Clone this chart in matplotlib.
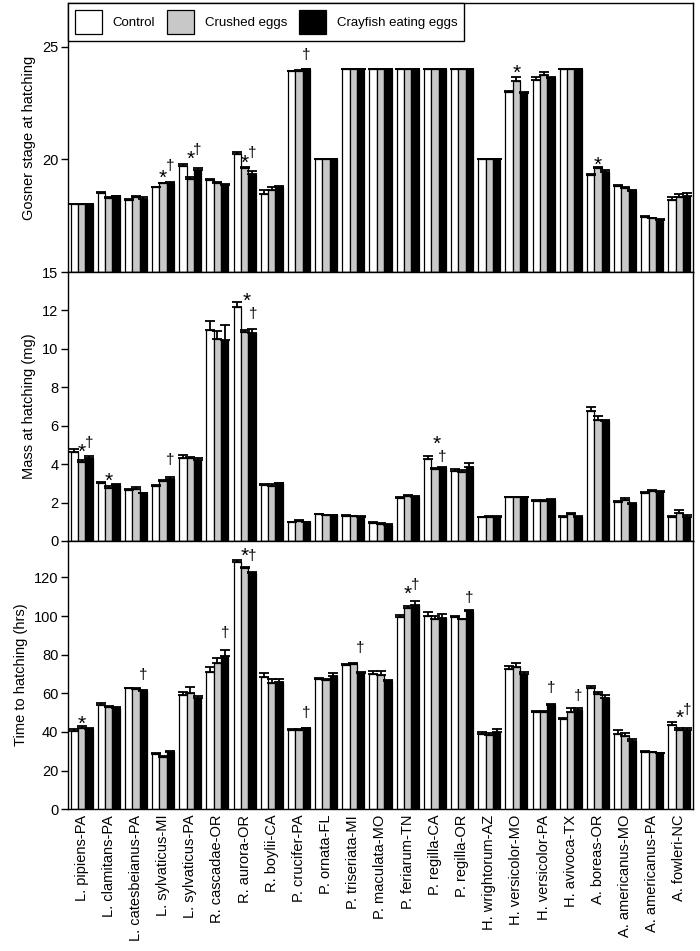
import matplotlib
matplotlib.use("Agg")
import matplotlib.pyplot as plt
from matplotlib.patches import Patch
import numpy as np

plt.rcParams['font.family'] = ['Liberation Sans', 'DejaVu Sans']

species = ["L. pipiens-PA", "L. clamitans-PA", "L. catesbeianus-PA", "L. sylvaticus-MI",
           "L. sylvaticus-PA", "R. cascadae-OR", "R. aurora-OR", "R. boylii-CA",
           "P. crucifer-PA", "P. ornata-FL", "P. triseriata-MI", "P. maculata-MO",
           "P. feriarum-TN", "P. regilla-CA", "P. regilla-OR", "H. wrightorum-AZ",
           "H. versicolor-MO", "H. versicolor-PA", "H. avivoca-TX", "A. boreas-OR",
           "A. americanus-MO", "A. americanus-PA", "A. fowleri-NC"]
series_names = ["Control", "Crushed eggs", "Crayfish eating eggs"]
series_colors = ["white", "#c8c8c8", "black"]

# Gosner stage at hatching
stage_control = [18.0, 18.5, 18.2, 18.76, 19.7, 19.1, 20.24, 18.48, 23.92, 20.0, 24.0, 24.0,
                 24.0, 24.0, 24.0, 20.0, 23.0, 23.55, 24.0, 19.3, 18.8, 17.46, 18.21]
stage_crushed = [18.0, 18.3, 18.32, 18.94, 19.15, 18.97, 19.61, 18.66, 23.95, 20.0, 24.0, 24.0,
                 24.0, 24.0, 24.0, 20.0, 23.5, 23.77, 24.0, 19.62, 18.73, 17.39, 18.32]
stage_crayfish = [18.0, 18.36, 18.26, 18.97, 19.55, 18.87, 19.36, 18.78, 24.0, 20.0, 24.0, 24.0,
                  24.0, 24.0, 24.0, 20.0, 22.96, 23.6, 24.0, 19.46, 18.59, 17.32, 18.39]
stage_err_control = [0.02, 0.05, 0.05, 0.03, 0.08, 0.04, 0.1, 0.15, 0.02, 0.02, 0.02, 0.02,
                     0.02, 0.02, 0.02, 0.02, 0.02, 0.1, 0.02, 0.05, 0.05, 0.03, 0.12]
stage_err_crushed = [0.02, 0.05, 0.05, 0.03, 0.05, 0.04, 0.05, 0.1, 0.02, 0.02, 0.02, 0.02,
                     0.02, 0.02, 0.02, 0.02, 0.18, 0.1, 0.02, 0.05, 0.05, 0.03, 0.15]
stage_err_crayfish = [0.02, 0.03, 0.05, 0.03, 0.06, 0.05, 0.12, 0.05, 0.02, 0.02, 0.02, 0.02,
                      0.02, 0.02, 0.02, 0.02, 0.02, 0.05, 0.02, 0.05, 0.05, 0.03, 0.1]

# Mass at hatching (mg)
mass_control = [4.65, 3.0, 2.66, 2.88, 4.34, 10.99, 12.17, 2.92, 0.97, 1.39, 1.32, 0.95,
                2.22, 4.25, 3.66, 1.23, 2.27, 2.1, 1.23, 6.74, 2.05, 2.48, 1.23]
mass_crushed = [4.12, 2.74, 2.7, 3.12, 4.3, 10.5, 10.9, 2.88, 1.04, 1.34, 1.28, 0.9,
                2.36, 3.75, 3.58, 1.27, 2.27, 2.1, 1.39, 6.3, 2.13, 2.6, 1.44]
mass_crayfish = [4.3, 2.92, 2.48, 3.23, 4.22, 10.47, 10.85, 3.0, 0.97, 1.34, 1.26, 0.83,
                 2.27, 3.82, 3.84, 1.27, 2.27, 2.13, 1.23, 6.27, 1.93, 2.55, 1.23]
mass_err_control = [0.12, 0.05, 0.06, 0.05, 0.12, 0.47, 0.28, 0.05, 0.03, 0.03, 0.03, 0.03,
                    0.05, 0.18, 0.08, 0.03, 0.03, 0.03, 0.05, 0.25, 0.05, 0.05, 0.05]
mass_err_crushed = [0.08, 0.1, 0.1, 0.07, 0.08, 0.45, 0.1, 0.08, 0.03, 0.03, 0.03, 0.03,
                    0.05, 0.05, 0.1, 0.03, 0.03, 0.03, 0.08, 0.2, 0.1, 0.05, 0.18]
mass_err_crayfish = [0.1, 0.03, 0.03, 0.12, 0.1, 0.75, 0.2, 0.04, 0.03, 0.03, 0.03, 0.03,
                     0.05, 0.05, 0.2, 0.03, 0.03, 0.03, 0.05, 0.05, 0.05, 0.05, 0.1]

# Time to hatching (hrs)
time_control = [40.5, 54.0, 62.5, 28.5, 59.3, 71.0, 128.0, 68.5, 41.0, 67.5, 74.6, 69.8,
                99.6, 100.0, 99.6, 38.8, 72.6, 50.4, 46.8, 62.5, 39.0, 29.8, 43.5]
time_crushed = [42.2, 52.8, 62.0, 27.2, 60.3, 75.5, 124.7, 65.5, 41.0, 66.8, 75.2, 69.3,
                104.2, 98.3, 98.2, 38.2, 73.8, 50.4, 50.5, 59.4, 37.8, 29.6, 41.2]
time_crayfish = [41.5, 52.3, 61.2, 29.5, 57.6, 79.5, 122.4, 66.0, 42.0, 69.0, 70.7, 66.2,
                 105.7, 99.0, 102.6, 40.2, 70.0, 54.2, 51.6, 57.8, 35.2, 28.9, 40.8]
time_err_control = [0.8, 1.2, 0.5, 0.5, 1.5, 2.5, 1.0, 1.8, 0.3, 0.5, 0.5, 2.0,
                    0.8, 2.0, 0.5, 1.3, 1.5, 0.5, 0.5, 1.5, 2.0, 0.3, 1.5]
time_err_crushed = [0.8, 0.8, 0.5, 0.5, 3.0, 2.8, 0.8, 1.8, 0.3, 0.8, 0.5, 2.0,
                    1.2, 1.5, 0.5, 1.3, 1.8, 0.5, 2.0, 1.5, 1.5, 0.3, 1.0]
time_err_crayfish = [0.5, 0.5, 0.5, 0.5, 1.2, 3.0, 0.5, 1.5, 0.3, 1.3, 0.5, 0.8,
                     2.0, 2.0, 0.5, 1.5, 0.8, 0.5, 1.0, 1.5, 1.2, 0.3, 1.2]

# Significance marks: (species index, bar index, symbol, x shift in bar widths, offset in points)
stage_marks = [(3, 1, "*", 0, -0.7), (3, 2, "†", 0, 8.6),
               (4, 1, "*", 0, 8.8), (4, 2, "†", 0, 10),
               (6, 1, "*", 0, -0.9), (6, 2, "†", 0, 10),
               (8, 2, "†", 0, 7),
               (16, 1, "*", 0, -1.7),
               (19, 1, "*", 0, -3.2)]
mass_marks = [(0, 1, "*", 0, 2.1), (0, 2, "†", 0, 6.8),
              (1, 1, "*", 0, -0.6),
              (3, 2, "†", 0, 9),
              (6, 1, "*", 0.3, 16.5), (6, 2, "†", 0.15, 7.5),
              (13, 1, "*", 0.3, 13), (13, 2, "†", 0, 4.0)]
time_marks = [(0, 1, "*", 0, -2.8),
              (2, 2, "†", 0, 8),
              (5, 2, "†", 0, 9),
              (6, 1, "*", 0, 3.4), (6, 2, "†", 0, 8.5),
              (8, 2, "†", 0, 7.5),
              (10, 2, "†", 0, 14.5),
              (12, 1, "*", 0, 4.3), (12, 2, "†", 0, 9),
              (14, 2, "†", 0, 6),
              (17, 2, "†", 0, 8),
              (18, 2, "†", 0, 5.6),
              (22, 1, "*", 0, 2.5), (22, 2, "†", 0, 10.5)]

panels = [
    dict(vals=[stage_control, stage_crushed, stage_crayfish],
         errs=[stage_err_control, stage_err_crushed, stage_err_crayfish],
         ylim=(15, 26.95), ticks=[15, 20, 25], label="Gosner stage at hatching",
         marks=stage_marks, base=15),
    dict(vals=[mass_control, mass_crushed, mass_crayfish],
         errs=[mass_err_control, mass_err_crushed, mass_err_crayfish],
         ylim=(0, 14.0), ticks=[0, 2, 4, 6, 8, 10, 12], label="Mass at hatching (mg)",
         marks=mass_marks, base=0),
    dict(vals=[time_control, time_crushed, time_crayfish],
         errs=[time_err_control, time_err_crushed, time_err_crayfish],
         ylim=(0, 138.8), ticks=[0, 20, 40, 60, 80, 100, 120], label="Time to hatching (hrs)",
         marks=time_marks, base=0),
]

fig = plt.figure(figsize=(7.0, 9.51), dpi=100)
left, width = 68 / 700, 625 / 700
tops = [3, 272, 541]
bots = [272, 541, 809.3]

n = len(species)
x = np.arange(n)
bw = 0.27
offsets = [-bw, 0, bw]

axes = []
for p, (pt, pb) in zip(panels, zip(tops, bots)):
    ax = fig.add_axes([left, 1 - pb / 951, width, (pb - pt) / 951])
    axes.append(ax)
    for k in range(3):
        vals = np.array(p["vals"][k])
        errs = np.array(p["errs"][k])
        ax.bar(x + offsets[k], vals - p["base"], bw, bottom=p["base"],
               color=series_colors[k], edgecolor="black", linewidth=0.9, zorder=2)
        ax.errorbar(x + offsets[k], vals, yerr=[np.zeros(n), errs], fmt="none",
                    ecolor="black", elinewidth=1.3, capsize=3.4, capthick=1.3, zorder=3)
    for (gi, bi, sym, xs, dy) in p["marks"]:
        top = p["vals"][bi][gi] + p["errs"][bi][gi]
        ax.annotate(sym, xy=(gi + offsets[bi] + xs * bw, top), xytext=(0, dy),
                    textcoords="offset points", ha="center", va="baseline",
                    fontsize=15 if sym == "*" else 11, zorder=4)
    ax.set_xlim(-0.5, n - 0.5)
    ax.set_ylim(*p["ylim"])
    ax.set_yticks(p["ticks"])
    ax.set_ylabel(p["label"], fontsize=10.5)
    ax.tick_params(axis="y", direction="out", length=5, width=1, labelsize=10.5, pad=2)
    ax.tick_params(axis="x", length=0)
    for s in ax.spines.values():
        s.set_linewidth(1.0)
    ax.set_xticks(x)
    ax.set_xticklabels([])

axes[2].set_xticklabels(species, rotation=90, fontsize=10.5)
axes[2].tick_params(axis="x", pad=4)

handles = [Patch(facecolor=c, edgecolor="black", linewidth=0.9) for c in series_colors]
leg = axes[0].legend(handles, series_names, loc="upper left", bbox_to_anchor=(0, 1),
                     borderaxespad=0, ncol=3, frameon=True, fancybox=False,
                     edgecolor="black", framealpha=1, handlelength=2.05,
                     handleheight=2.5, handletextpad=0.83, columnspacing=0.9,
                     borderpad=0.5, fontsize=9.5)
leg.get_frame().set_linewidth(1.0)

fig.savefig("out.png", dpi=100)
